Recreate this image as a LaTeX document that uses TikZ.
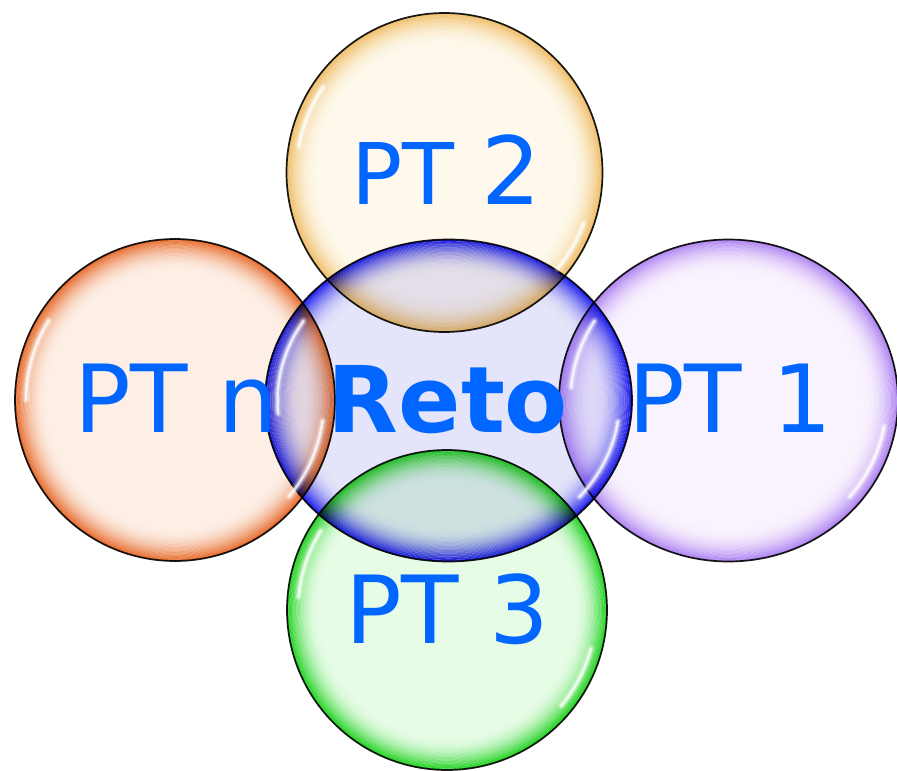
\documentclass[tikz,border=0pt]{standalone}
\usepackage{fontspec}
\newfontfamily\djv{DejaVu Sans}
\usetikzlibrary{shapes.geometric}
\definecolor{txtblue}{HTML}{0066FF}
\definecolor{bIn}{HTML}{E4E4FA}\definecolor{bEdge}{HTML}{1414EE}
\definecolor{yIn}{HTML}{FEF9EC}\definecolor{yEdge}{HTML}{F0C068}
\definecolor{oIn}{HTML}{FDEFE6}\definecolor{oEdge}{HTML}{E86A24}
\definecolor{pIn}{HTML}{F9F3FE}\definecolor{pEdge}{HTML}{B084F2}
\definecolor{gIn}{HTML}{E6FCE6}\definecolor{gEdge}{HTML}{18D418}
\newcommand\glassrings[5]{%
  \foreach \k in {0,...,19}{%
    \pgfmathsetmacro\ta{1-0.01*\k}%
    \pgfmathsetmacro\tb{\ta-0.01}%
    \pgfmathsetmacro\pp{100*((\ta-0.005-0.80)/0.20)^2}%
    \fill[#5!\pp!#4, even odd rule] (#1.center) ellipse[x radius={#2*\ta}, y radius={#3*\ta}]
      (#1.center) ellipse[x radius={#2*\tb}, y radius={#3*\tb}];
  }%
  \fill[#4] (#1.center) ellipse[x radius={#2*0.80}, y radius={#3*0.80}];
}
% soft white highlight arc: #1 centre, #2 start, #3 end, #4 rx, #5 ry
\newcommand\glint[5]{%
  \draw[white, line width=8pt, line cap=round, opacity=0.18] (#1) ++(#2:{#4} and {#5}) arc[start angle=#2, end angle=#3, x radius=#4, y radius=#5];
  \draw[white, line width=5pt, line cap=round, opacity=0.3] (#1) ++(#2:{#4} and {#5}) arc[start angle=#2, end angle=#3, x radius=#4, y radius=#5];
  \draw[white, line width=2.5pt, line cap=round, opacity=0.75] (#1) ++(#2:{#4} and {#5}) arc[start angle=#2, end angle=#3, x radius=#4, y radius=#5];
}
\tikzset{
  glass/.style={ellipse, draw=black!90, line width=1.7pt, inner sep=0pt, outer sep=0pt},
  lbl/.style={anchor=base, text=txtblue, inner sep=0pt, font=\djv\fontsize{94}{100}\selectfont}
}
\begin{document}
\begin{tikzpicture}[x=1pt, y=-1pt]
\useasboundingbox (0,0) rectangle (897,771);
\clip (0,0) rectangle (897,771);
\coordinate (cr) at (448.5,400.5);
\coordinate (c2) at (444.5,172.5);
\coordinate (cn) at (175,400);
\coordinate (c1) at (728.5,400.5);
\coordinate (c3) at (447,610);
\begin{scope}[blend mode=multiply]
  \glassrings{cr}{183.5}{161}{bIn}{bEdge}
  \glassrings{c2}{158}{159.5}{yIn}{yEdge}
  \glassrings{cn}{160}{161}{oIn}{oEdge}
  \glassrings{c1}{169.5}{161}{pIn}{pEdge}
  \glassrings{c3}{160}{160}{gIn}{gEdge}
  \node[glass, minimum width=367pt, minimum height=322pt] (reto) at (cr) {};
  \node[glass, minimum width=316pt, minimum height=319pt] (pt2) at (c2) {};
  \node[glass, minimum width=320pt, minimum height=322pt] (ptn) at (cn) {};
  \node[glass, minimum width=339pt, minimum height=322pt] (pt1) at (c1) {};
  \node[glass, minimum width=320pt, minimum height=320pt] (pt3) at (c3) {};
\end{scope}
% glossy highlights
\glint{reto.center}{175}{212}{171}{150}
\glint{reto.center}{8}{40}{171}{150}
\glint{pt2.center}{190}{215}{148}{149}
\glint{pt2.center}{20}{40}{148}{149}
\glint{ptn.center}{180}{212}{149}{150}
\glint{ptn.center}{8}{40}{149}{150}
\glint{pt1.center}{185}{212}{158}{150}
\glint{pt1.center}{10}{40}{158}{150}
\glint{pt3.center}{185}{212}{149}{149}
\glint{pt3.center}{15}{40}{149}{149}
% labels
\node[lbl] (tn) at (176,432) {PT n};
\node[lbl] (t1) at (730,432) {PT 1};
\node[lbl] (t3) at (447,643) {PT 3};
\node[lbl] (t2) at (446,204) {{\fontsize{85}{90}\selectfont PT }2};
\node[lbl, font=\djv\bfseries\fontsize{92}{100}\selectfont] (tr) at (448,432) {Reto};
\end{tikzpicture}
\end{document}
